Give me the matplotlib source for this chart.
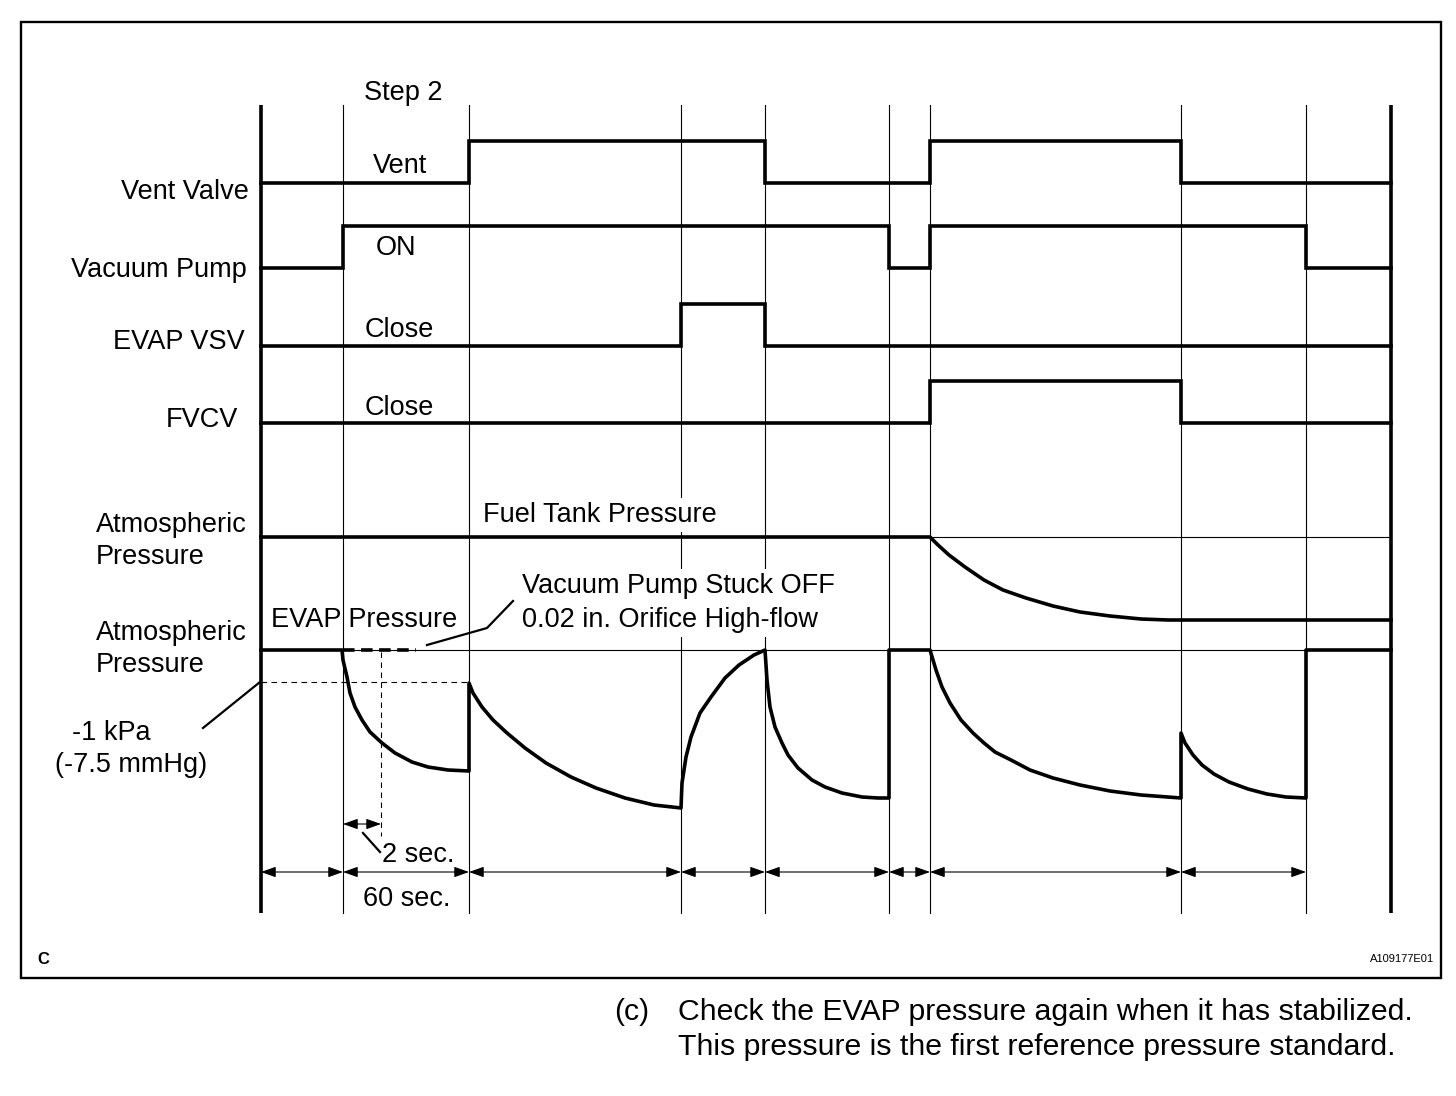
import matplotlib
matplotlib.use("Agg")
import matplotlib.pyplot as plt
from matplotlib.patches import FancyArrowPatch, Rectangle

# ---------------- data ----------------
# event boundaries along the time axis (diagram units)
event_t = [261, 343, 469, 681, 765, 889, 930, 1181, 1306, 1391]
# digital states per interval (0 = low, 1 = high)
vent_valve = [0, 0, 1, 1, 0, 0, 1, 0, 0]
vacuum_pump = [0, 1, 1, 1, 1, 0, 1, 1, 0]
evap_vsv = [0, 0, 0, 1, 0, 0, 0, 0, 0]
fvcv = [0, 0, 0, 0, 0, 0, 1, 0, 0]
signal_names = ["Vent Valve", "Vacuum Pump", "EVAP VSV", "FVCV"]
state_labels = ["Vent", "ON", "Close", "Close"]

# fuel tank pressure trace (time, level)
fuel_t = [261, 930, 938, 949, 965, 984, 1003, 1026, 1053, 1080, 1110, 1141, 1168, 1391]
fuel_p = [537, 537, 545, 555, 567, 580, 590, 598, 606, 612, 616, 619, 620, 620]

# EVAP pressure trace (time, level)
evap_t = [261, 342, 343, 347, 350, 355, 362, 370, 382, 395, 412, 428, 448, 469,
          469, 473, 482, 493, 507, 525, 546, 571, 596, 625, 654, 681,
          681, 682, 686, 691, 700, 711, 725, 739, 754, 765,
          765, 767, 770, 775, 782, 788, 798, 812, 825, 842, 862, 878, 889,
          889, 930, 936, 942, 950, 961, 973, 984, 995, 1011, 1030, 1053, 1080, 1110, 1141, 1181,
          1181, 1185, 1193, 1202, 1214, 1229, 1248, 1267, 1286, 1306,
          1306, 1391]
evap_p = [650, 650, 660, 677, 693, 707, 720, 732, 743, 753, 762, 767, 770, 771,
          683, 693, 707, 720, 733, 748, 763, 777, 788, 798, 805, 808,
          808, 783, 757, 737, 713, 697, 678, 665, 655, 650,
          650, 680, 707, 727, 743, 755, 768, 780, 787, 793, 797, 798, 798,
          650, 650, 670, 687, 703, 720, 733, 743, 752, 760, 770, 778, 785, 791, 795, 798,
          733, 743, 755, 765, 774, 782, 789, 794, 797, 798,
          650, 650]

# alternative trace: Vacuum Pump Stuck OFF
stuck_t = [343, 416]
stuck_p = [650, 650]

dim_labels = ["2 sec.", "60 sec."]

# ---------------- drawing ----------------
FONT = ["Liberation Sans", "DejaVu Sans"]
plt.rcParams["font.family"] = FONT
FS = 19.5
THICK = 2.6
THIN = 0.8

fig = plt.figure(figsize=(14.56, 10.96), dpi=100)
ax = fig.add_axes([0, 0, 1, 1])
ax.set_xlim(0, 1456)
ax.set_ylim(1096, 0)
ax.axis("off")

# outer frame
ax.add_patch(Rectangle((21, 22), 1420, 956, fill=False, lw=1.7, ec="black", zorder=5))

top, bot = 105, 913
# boundary lines
for i, x in enumerate(event_t):
    if i == 0 or i == len(event_t) - 1:
        ax.plot([x, x], [top, bot], color="black", lw=THICK, solid_capstyle="butt", zorder=4)
    else:
        ax.plot([x, x], [top, bot], color="black", lw=THIN, zorder=1)

# digital signals
lane_base = [183, 268, 346, 423]
amp = 42
for states, base in zip([vent_valve, vacuum_pump, evap_vsv, fvcv], lane_base):
    ys = [base - amp * s for s in states] + [base - amp * states[-1]]
    ax.step(event_t, ys, where="post", color="black", lw=THICK, zorder=4,
            solid_joinstyle="miter")

# signal names
name_pos = [(249, 199), (247, 277), (245, 349), (238, 427)]
for name, (x, y) in zip(signal_names, name_pos):
    ax.text(x, y, name, ha="right", va="baseline", fontsize=FS)
state_pos = [(400, 173), (396, 255), (399, 337), (399, 415)]
for lab, (x, y) in zip(state_labels, state_pos):
    ax.text(x, y, lab, ha="center", va="baseline", fontsize=FS)
ax.text(403, 100, "Step 2", ha="center", va="baseline", fontsize=FS)

# atmospheric reference lines
ax.plot([event_t[0], event_t[-1]], [537, 537], color="black", lw=THIN, zorder=1)
ax.plot([event_t[0], event_t[-1]], [650, 650], color="black", lw=THIN, zorder=1)
# -1 kPa reference (dashed)
ax.plot([event_t[0], event_t[2]], [682, 682], color="black", lw=THIN, ls=(0, (5, 4)), zorder=1)
# 2 sec marker (dashed)
ax.plot([381, 381], [652, 836], color="black", lw=THIN, ls=(0, (5, 4)), zorder=1)

# pressure traces
ax.plot(fuel_t, fuel_p, color="black", lw=THICK, zorder=4, solid_joinstyle="round")
ax.plot(evap_t, evap_p, color="black", lw=THICK, zorder=4, solid_joinstyle="round")
ax.plot(stuck_t, stuck_p, color="black", lw=THICK, ls=(0, (3.2, 1.8)), zorder=4)

# pressure labels
ax.text(96, 532, "Atmospheric", ha="left", va="baseline", fontsize=FS)
ax.text(96, 564, "Pressure", ha="left", va="baseline", fontsize=FS)
ax.text(96, 640, "Atmospheric", ha="left", va="baseline", fontsize=FS)
ax.text(96, 672, "Pressure", ha="left", va="baseline", fontsize=FS)
ax.text(72, 740, "-1 kPa", ha="left", va="baseline", fontsize=FS)
ax.text(55, 772, "(-7.5 mmHg)", ha="left", va="baseline", fontsize=FS)
ax.plot([203, 260], [728, 682], color="black", lw=1.6, zorder=4)

bb = dict(boxstyle="square,pad=0.15", fc="white", ec="none")
ax.text(483, 522, "Fuel Tank Pressure", ha="left", va="baseline", fontsize=FS, bbox=bb, zorder=3)
ax.text(271, 627, "EVAP Pressure", ha="left", va="baseline", fontsize=FS, zorder=3)
ax.text(522, 593, "Vacuum Pump Stuck OFF", ha="left", va="baseline", fontsize=FS,
        bbox=bb, zorder=3)
ax.text(522, 627, "0.02 in. Orifice High-flow", ha="left", va="baseline", fontsize=FS,
        bbox=bb, zorder=3)
ax.plot([427, 487, 513], [645, 628, 601], color="black", lw=1.6, zorder=4)

# dimension arrows
def dim_arrow(x0, x1, y):
    ar = FancyArrowPatch((x0, y), (x1, y), arrowstyle="<|-|>,head_length=0.45,head_width=0.16",
                         mutation_scale=20, lw=THIN, color="black", shrinkA=0, shrinkB=0, zorder=4)
    ax.add_patch(ar)

for a, b in zip(event_t[:-2], event_t[1:-1]):
    dim_arrow(a, b, 872)
dim_arrow(343, 381, 824)
ax.plot([363, 380], [833, 852], color="black", lw=1.6, zorder=4)
ax.text(382, 862, dim_labels[0], ha="left", va="baseline", fontsize=FS)
ax.text(407, 906, dim_labels[1], ha="center", va="baseline", fontsize=FS)

# corner marks
ax.text(37, 964, "C", ha="left", va="baseline", fontsize=12, fontweight="bold")
ax.text(1434, 962, "A109177E01", ha="right", va="baseline", fontsize=8)

# caption
CFS = 21.8
ax.text(614, 1020, "(c)", ha="left", va="baseline", fontsize=CFS)
ax.text(678, 1020, "Check the EVAP pressure again when it has stabilized.", ha="left",
        va="baseline", fontsize=CFS)
ax.text(678, 1055, "This pressure is the first reference pressure standard.", ha="left",
        va="baseline", fontsize=CFS)

fig.savefig("out.png", dpi=100, facecolor="white")
